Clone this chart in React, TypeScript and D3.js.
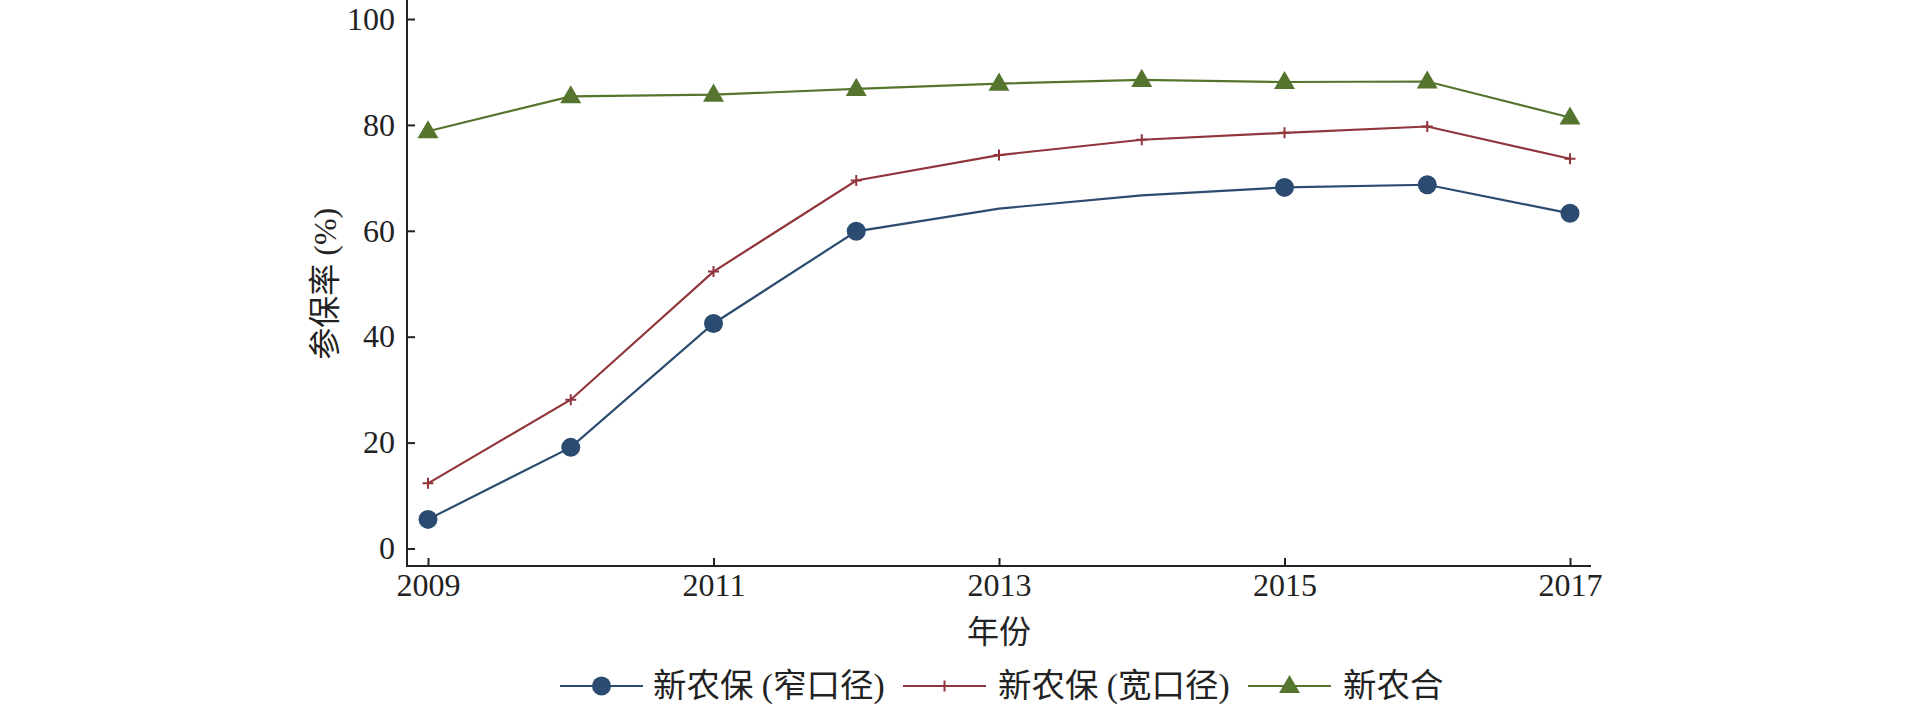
import { useEffect, useRef } from "react";
import * as d3 from "d3";

const years = [2009, 2010, 2011, 2012, 2013, 2014, 2015, 2016, 2017];
const narrowRates = [5.5, 19.1, 42.5, 59.9, 64.2, 66.7, 68.2, 68.7, 63.3];
const narrowMarked = [true, true, true, true, false, false, true, true, true];
const wideRates = [12.3, 28.1, 52.3, 69.5, 74.3, 77.2, 78.5, 79.7, 73.6];
const ncmsRates = [78.8, 85.4, 85.7, 86.8, 87.8, 88.5, 88.1, 88.2, 81.4];
const xTicks = [2009, 2011, 2013, 2015, 2017];
const yTicks = [0, 20, 40, 60, 80, 100];
const seriesNames = ["新农保 (窄口径)", "新农保 (宽口径)", "新农合"];

const FONT = "'Liberation Serif', 'Times New Roman', 'Noto Sans CJK SC', serif";
const AXIS = "#222222";

export default function App() {
    const svgRef = useRef<SVGSVGElement | null>(null);

    useEffect(() => {
        if (!svgRef.current) return;
        const svg = d3.select(svgRef.current);
        svg.selectAll("*").remove();

        const x = d3.scaleLinear().domain([2009, 2017]).range([428, 1570]);
        const y = d3.scaleLinear().domain([0, 100]).range([548.5, 19]);
        const axisX = 407;
        const axisY = 566;

        // axis lines
        svg.append("line")
            .attr("x1", axisX).attr("x2", axisX)
            .attr("y1", 0).attr("y2", axisY + 1)
            .attr("stroke", AXIS).attr("stroke-width", 2);
        svg.append("line")
            .attr("x1", axisX - 1).attr("x2", 1591)
            .attr("y1", axisY).attr("y2", axisY)
            .attr("stroke", AXIS).attr("stroke-width", 2);

        // y axis ticks
        const gy = svg.append("g")
            .attr("transform", `translate(${axisX},0)`)
            .call(d3.axisLeft(y).tickValues(yTicks).tickSize(-8).tickSizeOuter(0).tickPadding(12));
        gy.select(".domain").remove();
        gy.selectAll("line").attr("stroke", AXIS).attr("stroke-width", 2);
        gy.selectAll("text")
            .attr("font-family", FONT).attr("font-size", 32).attr("fill", AXIS);

        // x axis ticks
        const gx = svg.append("g")
            .attr("transform", `translate(0,${axisY})`)
            .call(
                d3.axisBottom(x)
                    .tickValues(xTicks)
                    .tickFormat(d3.format("d"))
                    .tickSize(-8)
                    .tickSizeOuter(0)
                    .tickPadding(7)
            );
        gx.select(".domain").remove();
        gx.selectAll("line").attr("stroke", AXIS).attr("stroke-width", 2);
        gx.selectAll("text")
            .attr("font-family", FONT).attr("font-size", 32).attr("fill", AXIS);

        // axis titles
        svg.append("text")
            .attr("transform", `translate(336,${(y(0) + y(100)) / 2}) rotate(-90)`)
            .attr("text-anchor", "middle")
            .attr("font-family", FONT).attr("font-size", 32).attr("fill", AXIS)
            .text("参保率 (%)");
        svg.append("text")
            .attr("x", (x(2009) + x(2017)) / 2)
            .attr("y", 643)
            .attr("text-anchor", "middle")
            .attr("font-family", FONT).attr("font-size", 32).attr("fill", AXIS)
            .text("年份");

        const line = d3.line<number>()
            .x((_, i) => x(years[i]))
            .y((d) => y(d));

        const series = [
            { name: seriesNames[0], values: narrowRates, color: "#2b4c70", marker: "circle" },
            { name: seriesNames[1], values: wideRates, color: "#90353b", marker: "plus" },
            { name: seriesNames[2], values: ncmsRates, color: "#55752f", marker: "triangle" },
        ];

        const triangle = d3.symbol().type(d3.symbolTriangle).size(190);

        const drawMarker = (g: any, type: string, cx: number, cy: number, color: string) => {
            if (type === "circle") {
                g.append("circle").attr("cx", cx).attr("cy", cy).attr("r", 9.5).attr("fill", color);
            } else if (type === "plus") {
                g.append("path")
                    .attr("d", `M${cx - 5.5},${cy}H${cx + 5.5}M${cx},${cy - 5.5}V${cy + 5.5}`)
                    .attr("stroke", color).attr("stroke-width", 2);
            } else {
                g.append("path")
                    .attr("d", triangle()!)
                    .attr("transform", `translate(${cx},${cy + 1})`)
                    .attr("fill", color);
            }
        };

        series.forEach((s) => {
            const g = svg.append("g");
            g.append("path")
                .attr("d", line(s.values)!)
                .attr("fill", "none")
                .attr("stroke", s.color)
                .attr("stroke-width", 2.2);
            s.values.forEach((v, i) => {
                if (s.marker === "circle" && !narrowMarked[i]) return;
                drawMarker(g, s.marker, x(years[i]), y(v), s.color);
            });
        });

        // legend
        const legendY = 686;
        const legendItems = [
            { x0: 560, textX: 653 },
            { x0: 903, textX: 998 },
            { x0: 1248, textX: 1343 },
        ];
        series.forEach((s, i) => {
            const { x0, textX } = legendItems[i];
            const g = svg.append("g");
            g.append("line")
                .attr("x1", x0).attr("x2", x0 + 83)
                .attr("y1", legendY).attr("y2", legendY)
                .attr("stroke", s.color).attr("stroke-width", 2.2);
            drawMarker(g, s.marker, x0 + 41.5, legendY, s.color);
            g.append("text")
                .attr("x", textX)
                .attr("y", legendY + 11)
                .attr("font-family", FONT).attr("font-size", 33.5).attr("fill", AXIS)
                .text(s.name);
        });
    }, []);

    return (
        <svg
            ref={svgRef}
            width={1920}
            height={704}
            style={{ position: "absolute", left: 0, top: 0, background: "#ffffff" }}
        />
    );
}
